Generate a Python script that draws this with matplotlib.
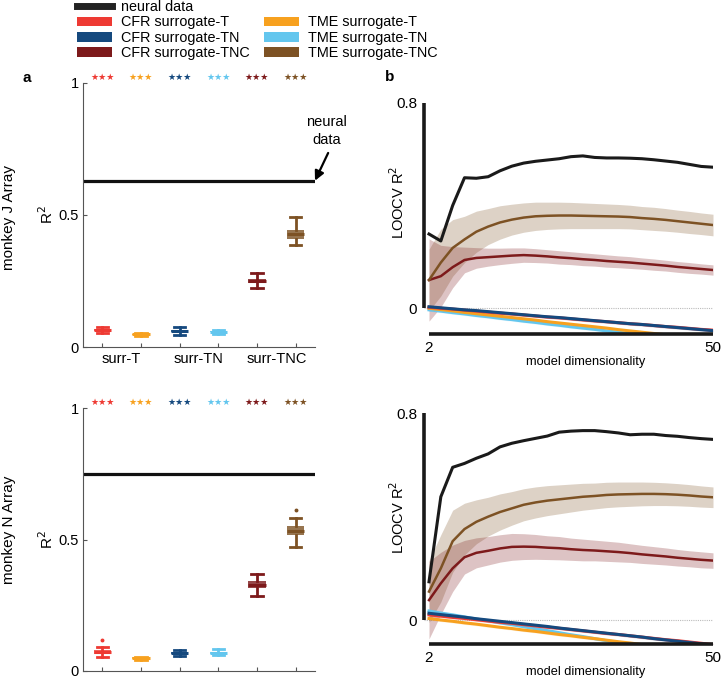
import matplotlib
matplotlib.use("Agg")
import matplotlib.pyplot as plt
from matplotlib.lines import Line2D
from matplotlib.patches import Patch
import numpy as np

plt.rcParams['font.family'] = ['Liberation Sans', 'DejaVu Sans']

# ---------------- data ----------------
series_names = ["CFR surrogate-T", "TME surrogate-T", "CFR surrogate-TN",
                "TME surrogate-TN", "CFR surrogate-TNC", "TME surrogate-TNC"]
colors = ["#EE3A33", "#F7A11F", "#15497E", "#63C6EE", "#7D1A1B", "#7D5224"]
group_labels = ["surr-T", "surr-TN", "surr-TNC"]
stars = ["★★★"] * 6

# panel a, monkey J: median, q1, q3, whisker low, whisker high
J_med = [0.065, 0.048, 0.060, 0.058, 0.251, 0.427]
J_q1 = [0.060, 0.045, 0.057, 0.055, 0.244, 0.409]
J_q3 = [0.068, 0.051, 0.063, 0.061, 0.258, 0.442]
J_lo = [0.052, 0.043, 0.046, 0.050, 0.222, 0.385]
J_hi = [0.076, 0.053, 0.074, 0.066, 0.279, 0.492]
J_fliers = [[], [], [], [], [], []]
J_neural_r2 = 0.63

# panel a, monkey N
N_med = [0.072, 0.049, 0.067, 0.070, 0.328, 0.533]
N_q1 = [0.066, 0.045, 0.063, 0.066, 0.314, 0.517]
N_q3 = [0.079, 0.052, 0.072, 0.074, 0.343, 0.551]
N_lo = [0.055, 0.042, 0.057, 0.060, 0.286, 0.470]
N_hi = [0.093, 0.055, 0.080, 0.082, 0.367, 0.580]
N_fliers = [[0.118], [], [], [], [], [0.614]]
N_neural_r2 = 0.75

# panel b
dims = [2, 4, 6, 8, 10, 12, 14, 16, 18, 20, 22, 24, 26, 28, 30, 32, 34, 36, 38, 40, 42, 44, 46, 48, 50]

J_neural = [0.289, 0.262, 0.400, 0.508, 0.506, 0.512, 0.535, 0.553, 0.565, 0.572, 0.577, 0.582, 0.590,
            0.593, 0.587, 0.585, 0.585, 0.584, 0.582, 0.578, 0.573, 0.568, 0.560, 0.552, 0.549]
J_tme_tnc = [0.110, 0.178, 0.235, 0.268, 0.298, 0.318, 0.334, 0.345, 0.353, 0.358, 0.360, 0.361, 0.361,
             0.360, 0.359, 0.358, 0.357, 0.355, 0.351, 0.348, 0.344, 0.339, 0.334, 0.329, 0.324]
J_tme_tnc_sd = [0.12, 0.13, 0.11, 0.09, 0.08, 0.07, 0.065, 0.06, 0.057, 0.055, 0.053, 0.052, 0.051,
                0.05, 0.049, 0.048, 0.047, 0.046, 0.045, 0.045, 0.044, 0.043, 0.043, 0.042, 0.042]
J_cfr_tnc = [0.110, 0.125, 0.160, 0.188, 0.196, 0.199, 0.202, 0.205, 0.207, 0.205, 0.202, 0.198, 0.195,
             0.191, 0.188, 0.184, 0.181, 0.178, 0.174, 0.170, 0.166, 0.161, 0.157, 0.153, 0.149]
J_cfr_tnc_sd = [0.16, 0.12, 0.08, 0.05, 0.04, 0.035, 0.032, 0.03, 0.028, 0.027, 0.026, 0.026, 0.025,
                0.025, 0.024, 0.024, 0.023, 0.023, 0.022, 0.022, 0.021, 0.021, 0.021, 0.02, 0.02]
J_cfr_t = [0.004, 0.000, -0.003, -0.007, -0.011, -0.015, -0.019, -0.022, -0.026, -0.030, -0.034, -0.037,
           -0.041, -0.045, -0.049, -0.052, -0.056, -0.060, -0.063, -0.067, -0.071, -0.074, -0.078, -0.082, -0.085]
J_cfr_tn = [0.006, 0.002, -0.002, -0.006, -0.009, -0.013, -0.017, -0.021, -0.025, -0.029, -0.033, -0.036,
            -0.040, -0.044, -0.048, -0.052, -0.056, -0.060, -0.063, -0.067, -0.071, -0.075, -0.079, -0.083, -0.087]
J_tme_t = [0.000, -0.005, -0.010, -0.016, -0.021, -0.026, -0.031, -0.036, -0.041, -0.046, -0.052, -0.057,
           -0.062, -0.067, -0.072, -0.077, -0.083, -0.088, -0.093, -0.098, -0.103, -0.108, -0.114, -0.119, -0.124]
J_tme_tn = [-0.006, -0.011, -0.017, -0.022, -0.028, -0.033, -0.039, -0.044, -0.050, -0.055, -0.061, -0.066,
            -0.072, -0.077, -0.082, -0.088, -0.093, -0.099, -0.104, -0.110, -0.115, -0.121, -0.126, -0.131, -0.137]

N_neural = [0.148, 0.477, 0.591, 0.606, 0.626, 0.643, 0.670, 0.684, 0.694, 0.703, 0.712, 0.727, 0.731,
            0.733, 0.733, 0.729, 0.724, 0.717, 0.719, 0.719, 0.714, 0.711, 0.706, 0.702, 0.699]
N_tme_tnc = [0.110, 0.200, 0.305, 0.352, 0.380, 0.400, 0.418, 0.432, 0.446, 0.455, 0.462, 0.467, 0.472,
             0.477, 0.480, 0.484, 0.486, 0.487, 0.488, 0.488, 0.487, 0.485, 0.482, 0.478, 0.475]
N_tme_tnc_sd = [0.12, 0.13, 0.12, 0.10, 0.085, 0.075, 0.07, 0.065, 0.062, 0.06, 0.058, 0.056, 0.054,
                0.052, 0.05, 0.049, 0.048, 0.047, 0.046, 0.045, 0.044, 0.043, 0.042, 0.041, 0.04]
N_cfr_tnc = [0.077, 0.142, 0.200, 0.243, 0.260, 0.268, 0.277, 0.283, 0.284, 0.283, 0.280, 0.278, 0.274,
             0.271, 0.269, 0.266, 0.263, 0.259, 0.254, 0.250, 0.246, 0.241, 0.237, 0.233, 0.230]
N_cfr_tnc_sd = [0.15, 0.12, 0.09, 0.065, 0.058, 0.055, 0.053, 0.052, 0.05, 0.048, 0.046, 0.045, 0.043,
                0.042, 0.04, 0.039, 0.038, 0.036, 0.035, 0.034, 0.033, 0.032, 0.031, 0.031, 0.03]
N_cfr_t = [0.020, 0.015, 0.010, 0.006, 0.001, -0.004, -0.009, -0.013, -0.018, -0.023, -0.028, -0.032,
           -0.037, -0.042, -0.047, -0.052, -0.056, -0.061, -0.066, -0.071, -0.076, -0.080, -0.085, -0.090, -0.095]
N_cfr_tn = [0.026, 0.021, 0.016, 0.011, 0.005, 0.000, -0.005, -0.010, -0.015, -0.020, -0.025, -0.031,
            -0.036, -0.041, -0.046, -0.051, -0.056, -0.061, -0.066, -0.072, -0.077, -0.082, -0.087, -0.092, -0.097]
N_tme_t = [0.006, 0.000, -0.005, -0.011, -0.016, -0.022, -0.028, -0.033, -0.039, -0.044, -0.050, -0.056,
           -0.061, -0.067, -0.072, -0.078, -0.084, -0.089, -0.095, -0.100, -0.106, -0.112, -0.117, -0.123, -0.128]
N_tme_tn = [0.035, 0.027, 0.020, 0.012, 0.004, -0.003, -0.011, -0.018, -0.026, -0.034, -0.041, -0.049,
            -0.057, -0.064, -0.072, -0.080, -0.087, -0.095, -0.102, -0.110, -0.118, -0.125, -0.133, -0.141, -0.148]
small_sd = 0.006

W, H = 721, 678
fig = plt.figure(figsize=(W / 100, H / 100), dpi=100)


def rect(l, t, r, b):
    return [l / W, 1 - b / H, (r - l) / W, (b - t) / H]


axJ = fig.add_axes(rect(83, 83, 315, 347))
axN = fig.add_axes(rect(83, 408, 315, 671))
axJb = fig.add_axes(rect(424, 102.7, 713, 334))
axNb = fig.add_axes(rect(424, 413.3, 713, 644.3))

spine_gray = "#555555"


def box_panel(ax, med, q1, q3, lo, hi, fliers, neural, show_labels):
    pos = np.arange(1, len(med) + 1)
    for i in range(len(med)):
        st = [dict(med=med[i], q1=q1[i], q3=q3[i], whislo=lo[i], whishi=hi[i], fliers=fliers[i])]
        c = colors[i]
        ax.bxp(st, positions=[pos[i]], widths=0.45, patch_artist=True, showfliers=True,
               boxprops=dict(facecolor=c, edgecolor='none', alpha=0.8),
               medianprops=dict(color=c, linewidth=2.2),
               whiskerprops=dict(color=c, linewidth=2),
               capprops=dict(color=c, linewidth=2), capwidths=0.3,
               flierprops=dict(marker='o', markersize=1.8, markerfacecolor=c, markeredgecolor=c))
        ax.text(pos[i], 1.02, stars[i], color=c, ha='center', va='center', fontsize=6.5,
                family='DejaVu Sans', clip_on=False)
    ax.axhline(neural, color='#111111', lw=2.3, zorder=1)
    ax.set_xlim(0.5, 6.5)
    ax.set_ylim(0, 1)
    ax.set_yticks([0, 0.5, 1])
    ax.set_yticklabels(["0", "0.5", "1"])
    ax.set_xticks(pos)
    ax.set_xticklabels([])
    if show_labels:
        for j, lab in enumerate(group_labels):
            ax.text(2 * j + 1.5, -0.045, lab, ha='center', va='center', fontsize=10.5,
                    transform=ax.transData, clip_on=False)
    for s in ['top', 'right']:
        ax.spines[s].set_visible(False)
    for s in ['left', 'bottom']:
        ax.spines[s].set_color(spine_gray)
        ax.spines[s].set_linewidth(0.8)
    ax.tick_params(direction='in', length=3, width=0.8, color=spine_gray, labelsize=10.5, pad=3)
    ax.set_ylabel("R$^2$", fontsize=11, labelpad=2)


box_panel(axJ, J_med, J_q1, J_q3, J_lo, J_hi, J_fliers, J_neural_r2, True)
box_panel(axN, N_med, N_q1, N_q3, N_lo, N_hi, N_fliers, N_neural_r2, False)

axJ.text(6.8, 0.818, "neural\ndata", ha='center', va='center', fontsize=10.5, linespacing=1.3,
         clip_on=False)
axJ.annotate("", xy=(6.5, J_neural_r2), xytext=(6.84, 0.735), annotation_clip=False,
             arrowprops=dict(arrowstyle='-|>', color='k', lw=1.6, mutation_scale=14,
                             shrinkA=0, shrinkB=0))


def curve_panel(ax, neural, tme_tnc, tme_tnc_sd, cfr_tnc, cfr_tnc_sd, cfr_t, cfr_tn, tme_t, tme_tn, ybot, ylab_y):
    d = np.array(dims)
    ax.axhline(0, color='#bbbbbb', lw=0.8, ls=(0, (1, 1)), zorder=0)
    for y, c in [(tme_tn, colors[3]), (tme_t, colors[1]), (cfr_t, colors[0]), (cfr_tn, colors[2])]:
        y = np.array(y)
        ax.fill_between(d, y - small_sd, y + small_sd, color=c, alpha=0.15, lw=0)
    for y, sd, c in [(tme_tnc, tme_tnc_sd, colors[5]), (cfr_tnc, cfr_tnc_sd, colors[4])]:
        y = np.array(y)
        sd = np.array(sd)
        ax.fill_between(d, y - sd, y + sd, color=c, alpha=0.26, lw=0)
    ax.plot(d, tme_tn, color=colors[3], lw=2.2)
    ax.plot(d, tme_t, color=colors[1], lw=2.2)
    ax.plot(d, cfr_t, color=colors[0], lw=2.2)
    ax.plot(d, cfr_tn, color=colors[2], lw=2.2)
    ax.plot(d, cfr_tnc, color=colors[4], lw=1.8)
    ax.plot(d, tme_tnc, color=colors[5], lw=1.8)
    ax.plot(d, neural, color='#1a1a1a', lw=2.2)
    ax.set_xlim(1.155, 50)
    ax.set_ylim(ybot, 0.8)
    for s in ['top', 'right']:
        ax.spines[s].set_visible(False)
    ax.spines['left'].set_bounds(0, 0.8)
    ax.spines['bottom'].set_bounds(2, 50)
    for s in ['left', 'bottom']:
        ax.spines[s].set_linewidth(2.6)
        ax.spines[s].set_color('#1a1a1a')
        ax.spines[s].set_capstyle('butt')
    ax.set_xticks([2, 50])
    ax.set_xticklabels(["2", "50"])
    ax.set_yticks([0, 0.8])
    ax.set_yticklabels(["0", "0.8"])
    ax.tick_params(length=0, labelsize=11, pad=5)
    ax.set_ylabel("LOOCV R$^2$", fontsize=10.5)
    ax.yaxis.set_label_coords(-0.06, ylab_y)
    ax.set_xlabel("model dimensionality", fontsize=9.2)
    ax.xaxis.set_label_coords(0.56, -0.095)


curve_panel(axJb, J_neural, J_tme_tnc, J_tme_tnc_sd, J_cfr_tnc, J_cfr_tnc_sd,
            J_cfr_t, J_cfr_tn, J_tme_t, J_tme_tn, -0.1, 0.57)
curve_panel(axNb, N_neural, N_tme_tnc, N_tme_tnc_sd, N_cfr_tnc, N_cfr_tnc_sd,
            N_cfr_t, N_cfr_tn, N_tme_t, N_tme_tn, -0.094, 0.55)

# labels
fig.text(9 / W, 1 - 217 / H, "monkey J Array", rotation=90, ha='center', va='center', fontsize=11)
fig.text(9 / W, 1 - 530 / H, "monkey N Array", rotation=90, ha='center', va='center', fontsize=11)
fig.text(27 / W, 1 - 78 / H, "a", fontweight='bold', ha='center', va='center', fontsize=11)
fig.text(390 / W, 1 - 77 / H, "b", fontweight='bold', ha='center', va='center', fontsize=11)

# legend
handles = [Line2D([], [], color='#222222', lw=5)]
labels = ["neural data"]
for i in [0, 2, 4]:
    handles.append(Patch(facecolor=colors[i], edgecolor='none'))
    labels.append(series_names[i])
handles.append(Patch(facecolor='none', edgecolor='none'))
labels.append("")
for i in [1, 3, 5]:
    handles.append(Patch(facecolor=colors[i], edgecolor='none'))
    labels.append(series_names[i])
fig.legend(handles, labels, ncol=2, loc='upper left', bbox_to_anchor=(77 / W, 1.0),
           frameon=False, fontsize=10.4, handlelength=2.45, handleheight=0.65,
           handletextpad=0.6, labelspacing=0.1, columnspacing=0.95, borderpad=0.0,
           borderaxespad=0.0)

fig.savefig("out.png", dpi=100)
